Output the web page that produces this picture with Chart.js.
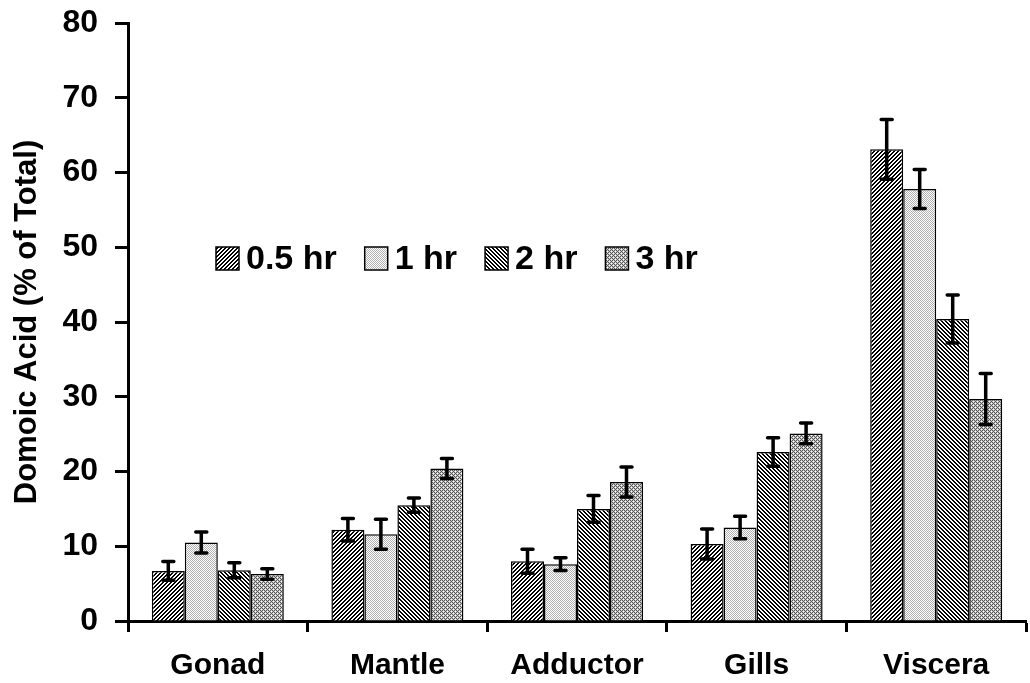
<!DOCTYPE html>
<html>
<head>
<meta charset="utf-8">
<script src="https://cdn.jsdelivr.net/npm/chart.js@4.4.0/dist/chart.umd.min.js"></script>
<style>
  body { margin: 0; background: #fff; }
  #wrap { width: 1030px; height: 683px; }
</style>
</head>
<body>
<div id="wrap"><canvas id="daChart" width="1030" height="683"></canvas></div>
<script>
// Data
const tissues = ["Gonad", "Mantle", "Adductor", "Gills", "Viscera"];
const seriesLabels = ["0.5 hr", "1 hr", "2 hr", "3 hr"];
const hr05 = [6.7, 12.2, 8.0, 10.3, 63.1];
const hr1 = [10.5, 11.6, 7.6, 12.5, 57.8];
const hr2 = [6.8, 15.5, 15.0, 22.6, 40.4];
const hr3 = [6.3, 20.4, 18.6, 25.1, 29.7];
const err05 = [1.25, 1.5, 1.6, 2.0, 4.0];
const err1 = [1.4, 2.0, 0.85, 1.5, 2.6];
const err2 = [1.0, 0.95, 1.8, 1.9, 3.2];
const err3 = [0.7, 1.35, 2.0, 1.4, 3.4];
const yMin = 0, yMax = 80, yStep = 10;

const FONT = "'Liberation Sans', Arial, sans-serif";
const canvas = document.getElementById("daChart");
const mainCtx = canvas.getContext("2d");

// pixel-tile fill patterns
function makePattern(size, pixelFn) {
    const c = document.createElement("canvas");
    c.width = size; c.height = size;
    const g = c.getContext("2d");
    for (let y = 0; y < size; y++) {
        for (let x = 0; x < size; x++) {
            g.fillStyle = pixelFn(x, y);
            g.fillRect(x, y, 1, 1);
        }
    }
    return mainCtx.createPattern(c, "repeat");
}
const fwdHatch = makePattern(4, (x, y) => ((x + y) % 4 < 2 ? "#000" : "#fff"));
const lightDots = makePattern(4, (x, y) => ((x + y) % 2 === 0 ? "#b0b0b0" : "#fff"));
const backHatch = makePattern(4, (x, y) => (((x - y) % 4 + 4) % 4 < 2 ? "#000" : "#fff"));
const darkDots = makePattern(4, (x, y) => {
    if ((x === 1 && y === 1) || (x === 3 && y === 3)) return "#fff";
    return (x + y) % 2 === 0 ? "#555" : "#c8c8c8";
});
const fills = [fwdHatch, lightDots, backHatch, darkDots];
const values = [hr05, hr1, hr2, hr3];
const errors = [err05, err1, err2, err3];

// error bars drawn through the y scale
const errorBars = {
    id: "errorBars",
    afterDatasetsDraw(chart) {
        const ctx = chart.ctx;
        const y = chart.scales.y;
        ctx.save();
        ctx.strokeStyle = "#000";
        ctx.lineWidth = 3.5;
        ctx.lineCap = "round";
        chart.data.datasets.forEach((ds, i) => {
            chart.getDatasetMeta(i).data.forEach((bar, j) => {
                const top = y.getPixelForValue(ds.data[j] + ds.errors[j]);
                const bot = y.getPixelForValue(ds.data[j] - ds.errors[j]);
                ctx.beginPath();
                ctx.moveTo(bar.x, top); ctx.lineTo(bar.x, bot);
                ctx.moveTo(bar.x - 5.5, top); ctx.lineTo(bar.x + 5.5, top);
                ctx.moveTo(bar.x - 5.5, bot); ctx.lineTo(bar.x + 5.5, bot);
                ctx.stroke();
            });
        });
        ctx.restore();
    }
};

// legend inside the plot area, in one row
const inlineLegend = {
    id: "inlineLegend",
    afterDraw(chart) {
        const ctx = chart.ctx;
        const area = chart.chartArea;
        let x = area.left + 88;
        const yc = area.top + 235.5;
        const box = 23;
        ctx.save();
        ctx.font = "bold 34px " + FONT;
        ctx.textBaseline = "middle";
        ctx.textAlign = "left";
        chart.data.datasets.forEach(ds => {
            ctx.fillStyle = ds.backgroundColor;
            ctx.fillRect(x, yc - box / 2, box, box);
            ctx.lineWidth = 1.5;
            ctx.strokeStyle = "#000";
            ctx.strokeRect(x, yc - box / 2, box, box);
            ctx.fillStyle = "#000";
            ctx.fillText(ds.label, x + box + 7, yc + 1);
            x += box + 7 + ctx.measureText(ds.label).width + 28;
        });
        ctx.restore();
    }
};

new Chart(canvas, {
    type: "bar",
    data: {
        labels: tissues,
        datasets: seriesLabels.map((label, i) => ({
            label: label,
            data: values[i],
            errors: errors[i],
            backgroundColor: fills[i],
            borderColor: "#000",
            borderWidth: 1.5,
            categoryPercentage: 0.735,
            barPercentage: 1.0,
        })),
    },
    options: {
        responsive: false,
        animation: false,
        layout: { padding: { top: 23, right: 4, left: 0, bottom: 0 } },
        plugins: {
            legend: { display: false },
            tooltip: { enabled: false },
        },
        scales: {
            x: {
                grid: { drawOnChartArea: false, offset: true, tickLength: 11, tickWidth: 3, tickColor: "#000" },
                border: { color: "#000", width: 3 },
                ticks: { color: "#000", padding: 16, font: { family: FONT, size: 30, weight: "bold" } },
                afterFit: s => { s.height = 62; },
            },
            y: {
                min: yMin, max: yMax,
                grid: { drawOnChartArea: false, tickLength: 13, tickWidth: 3, tickColor: "#000" },
                border: { color: "#000", width: 3 },
                ticks: { stepSize: yStep, color: "#000", padding: 17, font: { family: FONT, size: 32, weight: "bold" } },
                title: {
                    display: true,
                    text: "Domoic Acid (% of Total)",
                    color: "#000",
                    padding: { top: 9, bottom: 0 },
                    font: { family: FONT, size: 31, weight: "bold" },
                },
                afterFit: s => { s.width = 128; s.paddingTop = 0; s.paddingBottom = 0; },
            },
        },
    },
    plugins: [errorBars, inlineLegend],
});
</script>
</body>
</html>
